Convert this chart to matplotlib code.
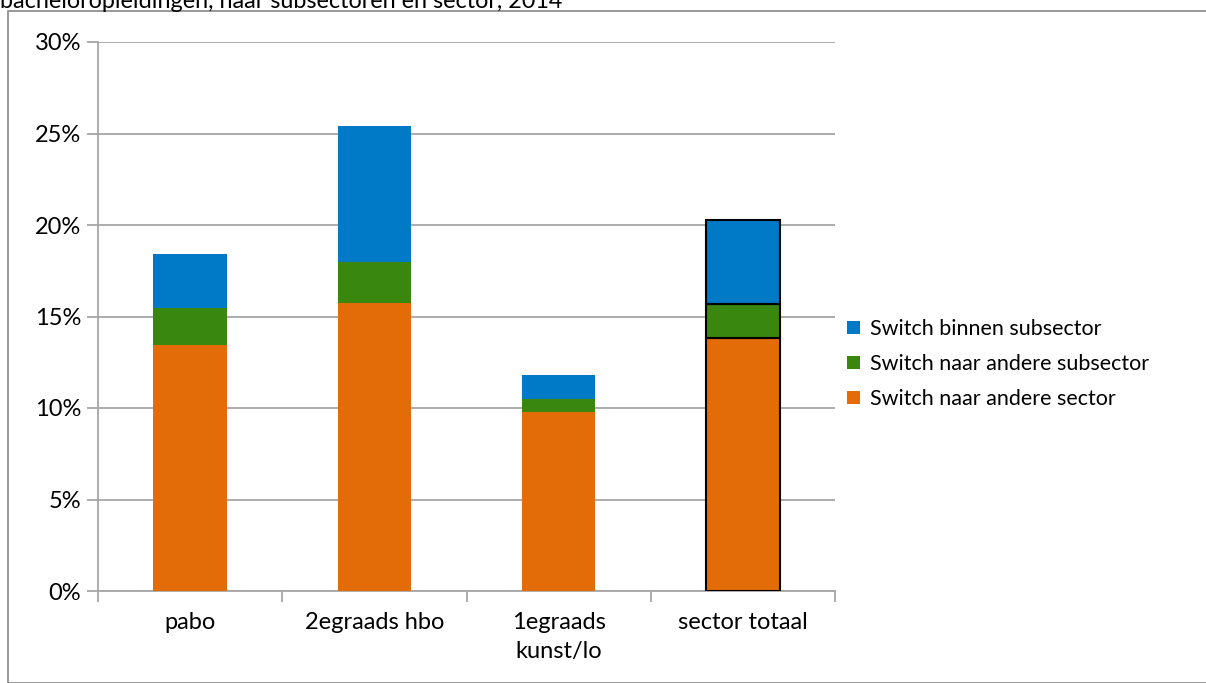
import matplotlib
matplotlib.use("Agg")
import matplotlib.pyplot as plt
from matplotlib.patches import Rectangle
from matplotlib.ticker import FuncFormatter, MultipleLocator
import numpy as np

categories = ["pabo", "2egraads hbo", "1egraads\nkunst/lo", "sector totaal"]
andere_sector = [13.44, 15.74, 9.78, 13.83]
andere_subsector = [2.02, 2.24, 0.71, 1.85]
binnen_subsector = [2.96, 7.43, 1.31, 4.59]
series_names = ["Switch naar andere sector", "Switch naar andere subsector", "Switch binnen subsector"]
colors = ["#E36C09", "#3A870F", "#0079C6"]
title_line = "bacheloropleidingen, naar subsectoren en sector, 2014"

plt.rcParams['font.family'] = ['Lato', 'DejaVu Sans']
W, H = 1206, 683
fig = plt.figure(figsize=(W/100, H/100), dpi=100)

def px(x0, y0, x1, y1):
    return [x0/W, 1 - y1/H, (x1-x0)/W, (y1-y0)/H]

ax = fig.add_axes(px(98, 42, 835, 591))
x = np.arange(len(categories))
series = [andere_sector, andere_subsector, binnen_subsector]
bottom = np.zeros(len(categories))
handles = []
for vals, col, name in zip(series, colors, series_names):
    vals = np.array(vals)
    ec = ['none'] * (len(categories) - 1) + ['black']
    lw = [0] * (len(categories) - 1) + [1.5]
    bars = ax.bar(x, vals, width=0.4, bottom=bottom, color=col, edgecolor=ec, linewidth=lw, zorder=3, label=name)
    handles.append(bars)
    bottom += vals

ax.set_xlim(-0.5, len(categories) - 0.5)
ax.set_ylim(0, 30)
ax.yaxis.set_major_locator(MultipleLocator(5))
ax.yaxis.set_major_formatter(FuncFormatter(lambda v, p: f"{v:.0f}%"))
ax.grid(axis='y', color='#A6A6A6', linewidth=1.3, zorder=0)
for s in ['top', 'right']:
    ax.spines[s].set_visible(False)
for s in ['left', 'bottom']:
    ax.spines[s].set_color('#A6A6A6')
    ax.spines[s].set_linewidth(1.3)
ax.set_xticks(x)
ax.set_xticklabels(categories, fontsize=17, linespacing=1.5)
ax.set_xticks(np.arange(-0.5, len(categories)), minor=True)
ax.tick_params(axis='x', which='major', length=0, pad=15)
ax.tick_params(axis='x', which='minor', length=8, color='#A6A6A6', width=1.3)
ax.tick_params(axis='y', length=8, color='#A6A6A6', width=1.3, labelsize=17, pad=4)

leg = fig.legend([handles[2], handles[1], handles[0]],
                 [series_names[2], series_names[1], series_names[0]],
                 loc='center left', bbox_to_anchor=(828/W, 1 - 364/H),
                 frameon=False, fontsize=15.5, handlelength=0.6, handleheight=0.6,
                 handletextpad=0.45, labelspacing=0.7)
for h in leg.legend_handles:
    h.set_edgecolor('none')
    h.set_linewidth(0)

# outer chart border
fig.add_artist(Rectangle((8/W, 0), 1 - 8/W + 0.01, 1 - 11/H, transform=fig.transFigure,
                         fill=False, edgecolor='#888888', linewidth=1.2))
fig.text(0.0, 1 - 8/H, title_line, fontsize=16.8, va='baseline', ha='left')

fig.savefig("out.png", dpi=100)
